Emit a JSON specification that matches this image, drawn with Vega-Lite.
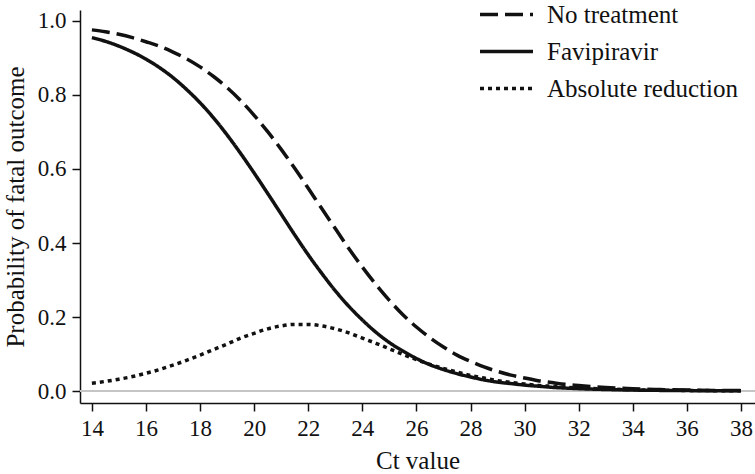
{
  "$schema": "https://vega.github.io/schema/vega-lite/v6.json",
  "width": 675,
  "height": 393,
  "padding": {"left": 80, "top": 10, "right": 0, "bottom": 71},
  "autosize": {"type": "none"},
  "background": "white",
  "config": {"view": {"stroke": null}, "font": "Liberation Serif"},
  "datasets": {
    "curves": [
      {"ct": 14, "series": "No treatment", "p": 0.976}, {"ct": 14.5, "series": "No treatment", "p": 0.971}, {"ct": 15, "series": "No treatment", "p": 0.964}, {"ct": 15.5, "series": "No treatment", "p": 0.955}, {"ct": 16, "series": "No treatment", "p": 0.944}, {"ct": 16.5, "series": "No treatment", "p": 0.932}, {"ct": 17, "series": "No treatment", "p": 0.916}, {"ct": 17.5, "series": "No treatment", "p": 0.898}, {"ct": 18, "series": "No treatment", "p": 0.876}, {"ct": 18.5, "series": "No treatment", "p": 0.850}, {"ct": 19, "series": "No treatment", "p": 0.820}, {"ct": 19.5, "series": "No treatment", "p": 0.785}, {"ct": 20, "series": "No treatment", "p": 0.745}, {"ct": 20.5, "series": "No treatment", "p": 0.701}, {"ct": 21, "series": "No treatment", "p": 0.653}, {"ct": 21.5, "series": "No treatment", "p": 0.602}, {"ct": 22, "series": "No treatment", "p": 0.548}, {"ct": 22.5, "series": "No treatment", "p": 0.493}, {"ct": 23, "series": "No treatment", "p": 0.439}, {"ct": 23.5, "series": "No treatment", "p": 0.385}, {"ct": 24, "series": "No treatment", "p": 0.335}, {"ct": 24.5, "series": "No treatment", "p": 0.288}, {"ct": 25, "series": "No treatment", "p": 0.245}, {"ct": 25.5, "series": "No treatment", "p": 0.206}, {"ct": 26, "series": "No treatment", "p": 0.173}, {"ct": 26.5, "series": "No treatment", "p": 0.144}, {"ct": 27, "series": "No treatment", "p": 0.119}, {"ct": 27.5, "series": "No treatment", "p": 0.097}, {"ct": 28, "series": "No treatment", "p": 0.080}, {"ct": 28.5, "series": "No treatment", "p": 0.065}, {"ct": 29, "series": "No treatment", "p": 0.053}, {"ct": 29.5, "series": "No treatment", "p": 0.043}, {"ct": 30, "series": "No treatment", "p": 0.035}, {"ct": 30.5, "series": "No treatment", "p": 0.028}, {"ct": 31, "series": "No treatment", "p": 0.023}, {"ct": 31.5, "series": "No treatment", "p": 0.018}, {"ct": 32, "series": "No treatment", "p": 0.015}, {"ct": 33, "series": "No treatment", "p": 0.0095}, {"ct": 34, "series": "No treatment", "p": 0.0061}, {"ct": 35, "series": "No treatment", "p": 0.0040}, {"ct": 36, "series": "No treatment", "p": 0.0026}, {"ct": 37, "series": "No treatment", "p": 0.0017}, {"ct": 38, "series": "No treatment", "p": 0.0011},
      {"ct": 14, "series": "Favipiravir", "p": 0.955}, {"ct": 14.5, "series": "Favipiravir", "p": 0.945}, {"ct": 15, "series": "Favipiravir", "p": 0.932}, {"ct": 15.5, "series": "Favipiravir", "p": 0.916}, {"ct": 16, "series": "Favipiravir", "p": 0.897}, {"ct": 16.5, "series": "Favipiravir", "p": 0.874}, {"ct": 17, "series": "Favipiravir", "p": 0.847}, {"ct": 17.5, "series": "Favipiravir", "p": 0.815}, {"ct": 18, "series": "Favipiravir", "p": 0.779}, {"ct": 18.5, "series": "Favipiravir", "p": 0.738}, {"ct": 19, "series": "Favipiravir", "p": 0.692}, {"ct": 19.5, "series": "Favipiravir", "p": 0.642}, {"ct": 20, "series": "Favipiravir", "p": 0.589}, {"ct": 20.5, "series": "Favipiravir", "p": 0.534}, {"ct": 21, "series": "Favipiravir", "p": 0.478}, {"ct": 21.5, "series": "Favipiravir", "p": 0.422}, {"ct": 22, "series": "Favipiravir", "p": 0.368}, {"ct": 22.5, "series": "Favipiravir", "p": 0.318}, {"ct": 23, "series": "Favipiravir", "p": 0.271}, {"ct": 23.5, "series": "Favipiravir", "p": 0.229}, {"ct": 24, "series": "Favipiravir", "p": 0.192}, {"ct": 24.5, "series": "Favipiravir", "p": 0.159}, {"ct": 25, "series": "Favipiravir", "p": 0.131}, {"ct": 25.5, "series": "Favipiravir", "p": 0.108}, {"ct": 26, "series": "Favipiravir", "p": 0.088}, {"ct": 26.5, "series": "Favipiravir", "p": 0.071}, {"ct": 27, "series": "Favipiravir", "p": 0.058}, {"ct": 27.5, "series": "Favipiravir", "p": 0.047}, {"ct": 28, "series": "Favipiravir", "p": 0.038}, {"ct": 28.5, "series": "Favipiravir", "p": 0.030}, {"ct": 29, "series": "Favipiravir", "p": 0.024}, {"ct": 29.5, "series": "Favipiravir", "p": 0.020}, {"ct": 30, "series": "Favipiravir", "p": 0.016}, {"ct": 30.5, "series": "Favipiravir", "p": 0.013}, {"ct": 31, "series": "Favipiravir", "p": 0.010}, {"ct": 31.5, "series": "Favipiravir", "p": 0.008}, {"ct": 32, "series": "Favipiravir", "p": 0.0064}, {"ct": 33, "series": "Favipiravir", "p": 0.0041}, {"ct": 34, "series": "Favipiravir", "p": 0.0026}, {"ct": 35, "series": "Favipiravir", "p": 0.0017}, {"ct": 36, "series": "Favipiravir", "p": 0.0011}, {"ct": 37, "series": "Favipiravir", "p": 0.0007}, {"ct": 38, "series": "Favipiravir", "p": 0.0004},
      {"ct": 14, "series": "Absolute reduction", "p": 0.021}, {"ct": 14.5, "series": "Absolute reduction", "p": 0.026}, {"ct": 15, "series": "Absolute reduction", "p": 0.032}, {"ct": 15.5, "series": "Absolute reduction", "p": 0.039}, {"ct": 16, "series": "Absolute reduction", "p": 0.048}, {"ct": 16.5, "series": "Absolute reduction", "p": 0.058}, {"ct": 17, "series": "Absolute reduction", "p": 0.070}, {"ct": 17.5, "series": "Absolute reduction", "p": 0.083}, {"ct": 18, "series": "Absolute reduction", "p": 0.097}, {"ct": 18.5, "series": "Absolute reduction", "p": 0.112}, {"ct": 19, "series": "Absolute reduction", "p": 0.127}, {"ct": 19.5, "series": "Absolute reduction", "p": 0.143}, {"ct": 20, "series": "Absolute reduction", "p": 0.156}, {"ct": 20.5, "series": "Absolute reduction", "p": 0.168}, {"ct": 21, "series": "Absolute reduction", "p": 0.176}, {"ct": 21.5, "series": "Absolute reduction", "p": 0.180}, {"ct": 22, "series": "Absolute reduction", "p": 0.180}, {"ct": 22.5, "series": "Absolute reduction", "p": 0.176}, {"ct": 23, "series": "Absolute reduction", "p": 0.168}, {"ct": 23.5, "series": "Absolute reduction", "p": 0.157}, {"ct": 24, "series": "Absolute reduction", "p": 0.143}, {"ct": 24.5, "series": "Absolute reduction", "p": 0.129}, {"ct": 25, "series": "Absolute reduction", "p": 0.114}, {"ct": 25.5, "series": "Absolute reduction", "p": 0.099}, {"ct": 26, "series": "Absolute reduction", "p": 0.085}, {"ct": 26.5, "series": "Absolute reduction", "p": 0.072}, {"ct": 27, "series": "Absolute reduction", "p": 0.061}, {"ct": 27.5, "series": "Absolute reduction", "p": 0.051}, {"ct": 28, "series": "Absolute reduction", "p": 0.042}, {"ct": 28.5, "series": "Absolute reduction", "p": 0.035}, {"ct": 29, "series": "Absolute reduction", "p": 0.028}, {"ct": 29.5, "series": "Absolute reduction", "p": 0.023}, {"ct": 30, "series": "Absolute reduction", "p": 0.019}, {"ct": 30.5, "series": "Absolute reduction", "p": 0.015}, {"ct": 31, "series": "Absolute reduction", "p": 0.013}, {"ct": 31.5, "series": "Absolute reduction", "p": 0.010}, {"ct": 32, "series": "Absolute reduction", "p": 0.0083}, {"ct": 33, "series": "Absolute reduction", "p": 0.0054}, {"ct": 34, "series": "Absolute reduction", "p": 0.0035}, {"ct": 35, "series": "Absolute reduction", "p": 0.0023}, {"ct": 36, "series": "Absolute reduction", "p": 0.0015}, {"ct": 37, "series": "Absolute reduction", "p": 0.0010}, {"ct": 38, "series": "Absolute reduction", "p": 0.0006}
    ]
  },
  "data": {"name": "curves"},
  "layer": [
    {
      "mark": {"type": "rule", "color": "#c4c4c4", "strokeWidth": 1.5},
      "encoding": {"y": {"datum": 0, "type": "quantitative"}}
    },
    {
      "mark": {"type": "line", "strokeWidth": 3.5, "color": "#111111", "interpolate": "monotone", "strokeCap": "butt"},
      "encoding": {
        "x": {
          "field": "ct", "type": "quantitative",
          "scale": {"domain": [13.56, 38.52], "nice": false, "zero": false},
          "axis": {
            "values": [14, 16, 18, 20, 22, 24, 26, 28, 30, 32, 34, 36, 38],
            "format": "d", "grid": false,
            "domainColor": "#111111", "domainWidth": 1.5,
            "tickColor": "#111111", "tickWidth": 1.5, "tickSize": 8,
            "labelFont": "Liberation Serif", "labelFontSize": 23, "labelColor": "#111111", "labelPadding": 6,
            "title": "Ct value", "titleFont": "Liberation Serif", "titleFontSize": 25, "titleFontWeight": "normal", "titleColor": "#111111", "titlePadding": 8
          }
        },
        "y": {
          "field": "p", "type": "quantitative",
          "scale": {"domain": [-0.0324, 1.0297], "nice": false, "zero": false},
          "axis": {
            "values": [0, 0.2, 0.4, 0.6, 0.8, 1.0],
            "format": ".1f", "grid": false,
            "domainColor": "#111111", "domainWidth": 1.5,
            "tickColor": "#111111", "tickWidth": 1.5, "tickSize": 8,
            "labelFont": "Liberation Serif", "labelFontSize": 23, "labelColor": "#111111", "labelPadding": 6,
            "title": "Probability of fatal outcome", "titleFont": "Liberation Serif", "titleFontSize": 25, "titleFontWeight": "normal", "titleColor": "#111111", "titlePadding": 9
          }
        },
        "strokeDash": {
          "field": "series", "type": "nominal",
          "scale": {"domain": ["No treatment", "Favipiravir", "Absolute reduction"], "range": [[18, 7], [1, 0], [4, 4]]},
          "legend": {
            "orient": "none", "legendX": 414, "legendY": -8, "title": null,
            "symbolType": "M-2.65,0H2.65", "symbolSize": 400, "symbolStrokeWidth": 3.5, "symbolStrokeColor": "#111111",
            "labelFont": "Liberation Serif", "labelFontSize": 25, "labelColor": "#111111", "labelOffset": 28, "labelLimit": 400,
            "rowPadding": 11, "padding": 0
          }
        }
      }
    }
  ]
}
